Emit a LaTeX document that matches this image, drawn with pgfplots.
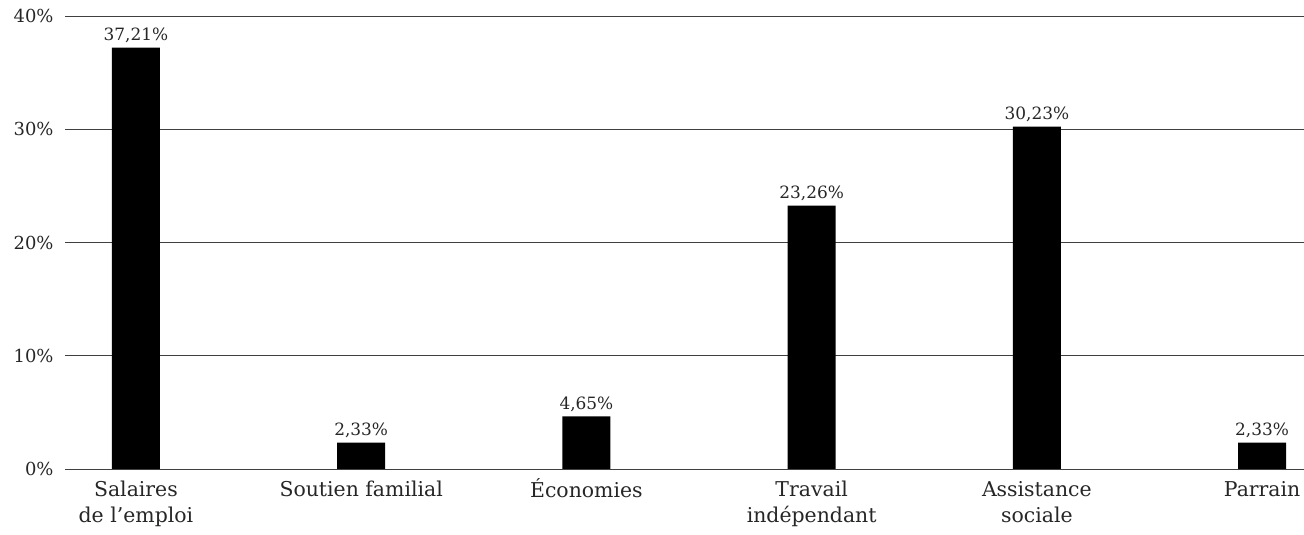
\documentclass[border=0pt]{standalone}
\usepackage{pgfplots}
\pgfplotsset{compat=1.18}
\usepackage{fontspec}
\setmainfont{DejaVu Serif}

\begin{document}
\begin{tikzpicture}[x=1bp,y=1bp]
\begin{axis}[
  at={(65bp,66bp)}, anchor=south west,
  scale only axis,
  width=1239bp, height=453bp,
  xmin=-0.315, xmax=5.186,
  ymin=0, ymax=40,
  axis line style={draw=none},
  ytick={0,10,20,30,40},
  yticklabel={\pgfmathprintnumber{\tick}\%},
  /pgf/number format/assume math mode=true,
  yticklabel style={font=\fontsize{18}{20}\selectfont, text=black!85, xshift=-8bp},
  ymajorgrids,
  grid style={black!75, line width=0.9bp},
  major tick length=0pt,
  xtick={0,1,2,3,4,5},
  xticklabels={{\strut Salaires\\de l’emploi},{\strut Soutien familial},{\strut Économies},{\strut Travail\\indépendant},{\strut Assistance\\sociale},{\strut Parrain}},
  xticklabel style={font=\fontsize{20.5}{26}\selectfont, align=center, anchor=north,
    text=black!85, yshift=-6bp},
  ybar, bar width=48bp,
  nodes near coords={\pgfmathprintnumber[use comma,fixed,fixed zerofill,precision=2]{\pgfplotspointmeta}\%},
  nodes near coords style={font=\fontsize{17}{19}\selectfont, text=black!85, /pgf/number format/assume math mode=true, yshift=1bp},
  clip=false,
]
\addplot[fill=black, draw=none] coordinates {
  (0,37.21) (1,2.33) (2,4.65) (3,23.26) (4,30.23) (5,2.33)
};
\end{axis}
\pgfresetboundingbox
\path (0,0) rectangle (1304,535);
\end{tikzpicture}
\end{document}
